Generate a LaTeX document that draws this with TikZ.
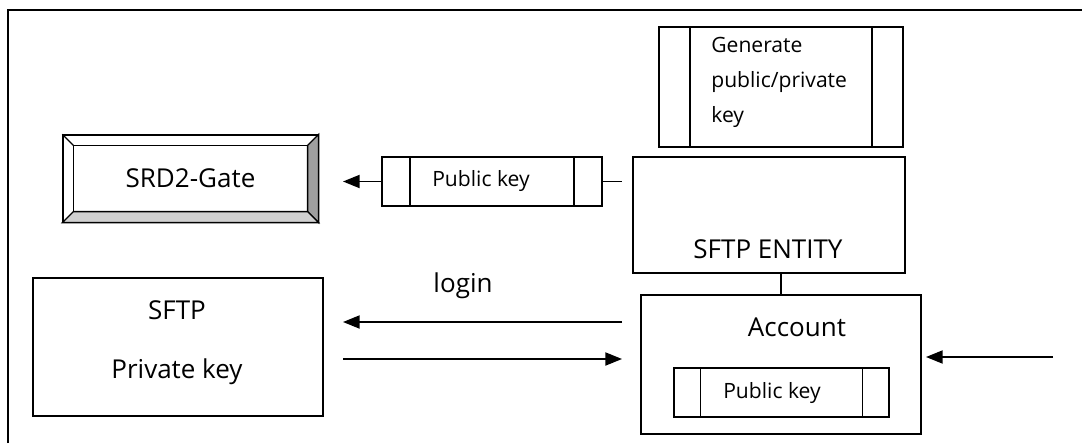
\documentclass[tikz,border=0pt]{standalone}
\usepackage{fontspec}
\setmainfont{Open Sans}
\usetikzlibrary{arrows.meta}

\tikzset{
    bigtext/.style={font=\fontsize{14.8}{17}\selectfont},
    smalltext/.style={font=\fontsize{12}{14}\selectfont},
    plainbox/.style={draw, line width=0.75pt, inner sep=0pt},
    keybox/.style={plainbox, path picture={
        \draw[line width=0.75pt] ([xshift=#1]path picture bounding box.north west) -- ([xshift=#1]path picture bounding box.south west);
        \draw[line width=0.75pt] ([xshift=-#1]path picture bounding box.north east) -- ([xshift=-#1]path picture bounding box.south east);}},
    keybox/.default=0.56cm,
    flow/.style={line width=0.8pt, -{Triangle[length=9.5pt,width=7.5pt]}}
}

\begin{document}
\begin{tikzpicture}[x=0.02cm, y=-0.02cm]

    \useasboundingbox (0,0) rectangle (1082,443);
    \draw[line width=1pt] (8,443) -- (8,10) -- (1082,10);

    \node[plainbox, minimum width=5.1cm, minimum height=1.74cm] (gate) at (190.5,178.5) {};
    \begin{scope}[line width=0.75pt]
    \filldraw[fill=gray!75] (gate.north east) -- (gate.south east) -- ([shift={(-11,-11)}]gate.south east) -- ([shift={(-11,11)}]gate.north east) -- cycle;
    \filldraw[fill=gray!37] (gate.south west) -- (gate.south east) -- ([shift={(-11,-11)}]gate.south east) -- ([shift={(11,-11)}]gate.south west) -- cycle;
    \draw (gate.north west) -- ([shift={(11,11)}]gate.north west);
    \draw ([shift={(11,11)}]gate.north west) rectangle ([shift={(-11,-11)}]gate.south east);
    \end{scope}
    \node[bigtext] at (gate) {SRD2-Gate};

    \node[keybox, minimum width=4.4cm, minimum height=0.98cm] (pkgate) at (492,181.5) {};
    \node[smalltext] at ([xshift=-0.22cm]pkgate) {Public key};
    \coordinate (gatetip) at (343,181.5);
    \coordinate (stubend) at (622,181.5);
    \draw[flow] (pkgate.west) -- (gatetip);
    \draw[line width=0.75pt] (pkgate.east) -- (stubend);

    \node[keybox=0.62cm, minimum width=4.88cm, minimum height=2.4cm] (gen) at (781,87) {};
    \node[smalltext, font=\fontsize{12}{20}\selectfont, align=left, anchor=north west, inner sep=0pt] at (711,37) {Generate\\public/private\\key};

    \node[plainbox, minimum width=5.44cm, minimum height=2.32cm] (entity) at (769,215) {};
    \node[bigtext] at (768,249) {SFTP ENTITY};

    \node[plainbox, minimum width=5.6cm, minimum height=2.78cm] (account) at (781,364.5) {};
    \node[bigtext] at (797,327) {Account};
    \node[keybox=0.53cm, minimum width=4.3cm, minimum height=0.98cm] (pkacc) at (781.5,392.5) {};
    \node[smalltext] at (772,393) {Public key};
    \draw[line width=0.75pt] (account.north) -- (account.north |- entity.south);

    \node[plainbox, minimum width=5.8cm, minimum height=2.76cm] (sftp) at (178,347) {};
    \node[bigtext] at (177,310) {SFTP};
    \node[bigtext] at (177,372) {Private key};

    \node[bigtext] at (463,286) {login};
    \coordinate (loginfrom) at (622,322);
    \coordinate (loginto) at (343,322);
    \coordinate (replyfrom) at (343,359);
    \coordinate (replyto) at (622,359);
    \draw[flow] (loginfrom) -- (loginto);
    \draw[flow] (replyfrom) -- (replyto);

    \coordinate (feed) at (1053,357);
    \coordinate (feedtip) at (926,357);
    \draw[flow] (feed) -- (feedtip);

\end{tikzpicture}
\end{document}
